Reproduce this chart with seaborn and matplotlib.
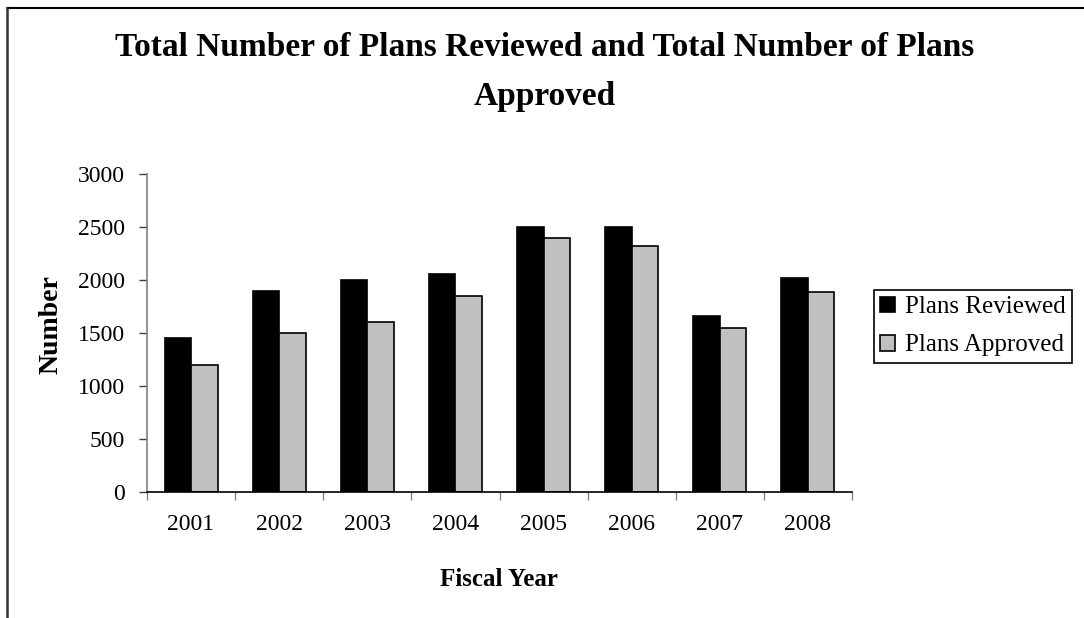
import numpy as np
import pandas as pd
import matplotlib
matplotlib.use("Agg")
import matplotlib.pyplot as plt
import seaborn as sns
from matplotlib.patches import Patch
from matplotlib.lines import Line2D

# Chart data
years = ["2001", "2002", "2003", "2004", "2005", "2006", "2007", "2008"]
plans_reviewed = [1450, 1900, 2000, 2060, 2500, 2500, 1660, 2020]
plans_approved = [1200, 1500, 1600, 1850, 2400, 2320, 1550, 1890]
series_names = ["Plans Reviewed", "Plans Approved"]
series_colors = ["#000000", "#C0C0C0"]
y_ticks = [0, 500, 1000, 1500, 2000, 2500, 3000]

df = pd.DataFrame({
    "Fiscal Year": years + years,
    "Number": plans_reviewed + plans_approved,
    "Series": [series_names[0]] * len(years) + [series_names[1]] * len(years),
})

sns.set_theme(style="white")
plt.rcParams["font.family"] = ["Liberation Serif", "DejaVu Serif"]
plt.rcParams["text.color"] = "black"
plt.rcParams["xtick.color"] = "black"
plt.rcParams["ytick.color"] = "black"
plt.rcParams["axes.labelcolor"] = "black"

W, H = 1084, 618
fig = plt.figure(figsize=(W / 100, H / 100), dpi=100)
fig.patch.set_facecolor("white")


def fx(px):
    return px / W


def fy(py):
    return 1 - py / H


ax = fig.add_axes([fx(147), fy(492), fx(852) - fx(147), fy(174) - fy(492)])
sns.barplot(
    data=df, x="Fiscal Year", y="Number", hue="Series",
    order=years, hue_order=series_names, palette=series_colors,
    width=0.6, gap=0, saturation=1, edgecolor="black", linewidth=1.2,
    legend=False, ax=ax,
)

ax.set_ylim(0, 3000)
ax.set_xlim(-0.5, len(years) - 0.5)
ax.set_yticks(y_ticks)
ax.set_yticklabels([str(v) for v in y_ticks], fontsize=17, color="black")

# category boundaries carry the tick marks, category centres carry the labels
ax.set_xticks(np.arange(-0.5, len(years)), labels=[""] * (len(years) + 1))
ax.set_xticks(np.arange(len(years)), labels=years, minor=True)
ax.tick_params(axis="x", which="major", direction="out", length=6, width=1,
               color="#808080", bottom=True)
ax.tick_params(axis="x", which="minor", length=0, pad=16, labelsize=17,
               labelcolor="black")
ax.tick_params(axis="y", direction="out", length=6, width=1, color="#404040",
               left=True, pad=10, labelcolor="black")

ax.set_xlabel("")
ax.set_ylabel("")
for side in ["top", "right"]:
    ax.spines[side].set_visible(False)
ax.spines["left"].set_color("#808080")
ax.spines["left"].set_linewidth(1.2)
ax.spines["bottom"].set_color("black")
ax.spines["bottom"].set_linewidth(1.2)
ax.grid(False)

# titles and axis labels
fig.text(fx(545), fy(48), "Total Number of Plans Reviewed and Total Number of Plans",
         ha="center", va="center", fontsize=24, fontweight="bold", color="black")
fig.text(fx(545), fy(96), "Approved", ha="center", va="center",
         fontsize=24, fontweight="bold", color="black")
fig.text(fx(51), fy(325), "Number", ha="center", va="center", rotation=90,
         fontsize=20, fontweight="bold", color="black")
fig.text(fx(499), fy(580), "Fiscal Year", ha="center", va="center",
         fontsize=18, fontweight="bold", color="black")

# legend
handles = [Patch(facecolor=c, edgecolor="black", linewidth=1.2) for c in series_colors]
leg = fig.legend(
    handles, series_names, loc="upper left",
    bbox_to_anchor=(fx(874), fy(290)), bbox_transform=fig.transFigure,
    fontsize=18, frameon=True, fancybox=False, framealpha=1,
    edgecolor="black", handlelength=0.6, handleheight=0.6,
    handletextpad=0.4, borderpad=0.25, labelspacing=0.65, borderaxespad=0,
)
leg.get_frame().set_linewidth(1.2)
for t in leg.get_texts():
    t.set_color("black")

# outer chart frame
fig.add_artist(Line2D([fx(7), 1.0], [fy(8), fy(8)], transform=fig.transFigure,
                      color="black", linewidth=1.5))
fig.add_artist(Line2D([fx(7), fx(7)], [0.0, fy(8)], transform=fig.transFigure,
                      color="#333333", linewidth=1.8))

fig.savefig("out.png", dpi=100)
